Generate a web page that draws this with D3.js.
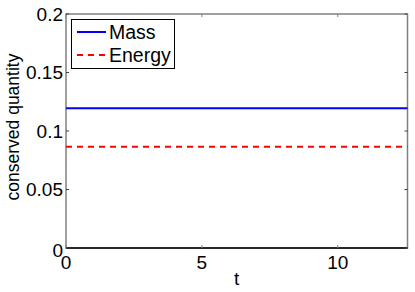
<!DOCTYPE html>
<html>
<head>
<meta charset="utf-8">
<script src="https://cdn.jsdelivr.net/npm/d3@7"></script>
<style>
  body { margin: 0; background: #fff; }
  text { font-family: "Liberation Sans", Arial, sans-serif; }
</style>
</head>
<body>
<svg id="chart" width="415" height="292"></svg>
<script>
// data
const tRange = [0, 4 * Math.PI];
const seriesNames = ['Mass', 'Energy'];
const seriesValues = [0.1194, 0.0866];
const seriesColors = ['#0000ff', '#ff0000'];
const xTicks = [0, 5, 10];
const yTicks = [0, 0.05, 0.1, 0.15, 0.2];

const margin = {left: 66, right: 7.5, top: 14, bottom: 44};
const width = 415, height = 292;

const svg = d3.select('#chart');

const x = d3.scaleLinear()
  .domain(tRange)
  .range([margin.left, width - margin.right]);

const y = d3.scaleLinear()
  .domain([0, 0.2])
  .range([height - margin.bottom, margin.top]);

// box
svg.append('rect')
  .attr('x', x(tRange[0]))
  .attr('y', y(0.2))
  .attr('width', x(tRange[1]) - x(tRange[0]))
  .attr('height', y(0) - y(0.2))
  .attr('fill', 'none')
  .attr('stroke', '#808080')
  .attr('stroke-width', 1.5);

// bottom axis line is black
svg.append('line')
  .attr('x1', x(tRange[0])).attr('x2', x(tRange[1]))
  .attr('y1', y(0)).attr('y2', y(0))
  .attr('stroke', '#000').attr('stroke-width', 1.5);

// inner ticks, on all four sides
const tickLen = 3;
svg.append('g').selectAll('line')
  .data(xTicks)
  .enter().append('line')
    .attr('x1', d => x(d)).attr('x2', d => x(d))
    .attr('y1', y(0)).attr('y2', y(0) - tickLen)
    .attr('stroke', '#808080');
svg.append('g').selectAll('line')
  .data(xTicks)
  .enter().append('line')
    .attr('x1', d => x(d)).attr('x2', d => x(d))
    .attr('y1', y(0.2)).attr('y2', y(0.2) + tickLen)
    .attr('stroke', '#808080');
svg.append('g').selectAll('line')
  .data(yTicks)
  .enter().append('line')
    .attr('x1', x(tRange[0])).attr('x2', x(tRange[0]) + tickLen)
    .attr('y1', d => y(d)).attr('y2', d => y(d))
    .attr('stroke', '#404040');
svg.append('g').selectAll('line')
  .data(yTicks)
  .enter().append('line')
    .attr('x1', x(tRange[1])).attr('x2', x(tRange[1]) - tickLen)
    .attr('y1', d => y(d)).attr('y2', d => y(d))
    .attr('stroke', '#404040');

// tick labels
const fmt = d3.format('');
svg.append('g').selectAll('text')
  .data(xTicks)
  .enter().append('text')
    .attr('x', d => x(d))
    .attr('y', y(0) + 21)
    .attr('text-anchor', 'middle')
    .attr('font-size', 19)
    .text(d => fmt(d));
svg.append('g').selectAll('text')
  .data(yTicks)
  .enter().append('text')
    .attr('x', x(tRange[0]) - 3)
    .attr('y', d => y(d) + (d === 0 ? 8.5 : 6.8))
    .attr('text-anchor', 'end')
    .attr('font-size', 19)
    .text(d => fmt(d));

// axis titles
svg.append('text')
  .attr('x', (x(tRange[0]) + x(tRange[1])) / 2)
  .attr('y', 285)
  .attr('text-anchor', 'middle')
  .attr('font-size', 19)
  .text('t');
svg.append('text')
  .attr('transform', `translate(19,${(y(0) + y(0.2)) / 2 - 4}) rotate(-90)`)
  .attr('text-anchor', 'middle')
  .attr('font-size', 17.5)
  .text('conserved quantity');

// the two constant lines
const line = d3.line().x(d => x(d[0])).y(d => y(d[1]));
svg.append('g').selectAll('path')
  .data(seriesValues)
  .enter().append('path')
    .attr('d', v => line([[tRange[0], v], [tRange[1], v]]))
    .attr('fill', 'none')
    .attr('stroke', (v, i) => seriesColors[i])
    .attr('stroke-width', 2)
    .attr('stroke-dasharray', (v, i) => i === 1 ? '6,5' : null);

// legend
const lg = svg.append('g').attr('transform', 'translate(71.5,19.5)');
lg.append('rect')
  .attr('width', 103).attr('height', 49)
  .attr('fill', '#fff')
  .attr('stroke', '#000');
seriesNames.forEach((name, i) => {
  const ly = 12.5 + i * 23;
  lg.append('line')
    .attr('x1', 5.5).attr('x2', 34.5)
    .attr('y1', ly).attr('y2', ly)
    .attr('stroke', seriesColors[i])
    .attr('stroke-width', 2)
    .attr('stroke-dasharray', i === 1 ? '6,5' : null);
  lg.append('text')
    .attr('x', 37.5).attr('y', ly + 7)
    .attr('font-size', 19.5)
    .text(name);
});
</script>
</body>
</html>
